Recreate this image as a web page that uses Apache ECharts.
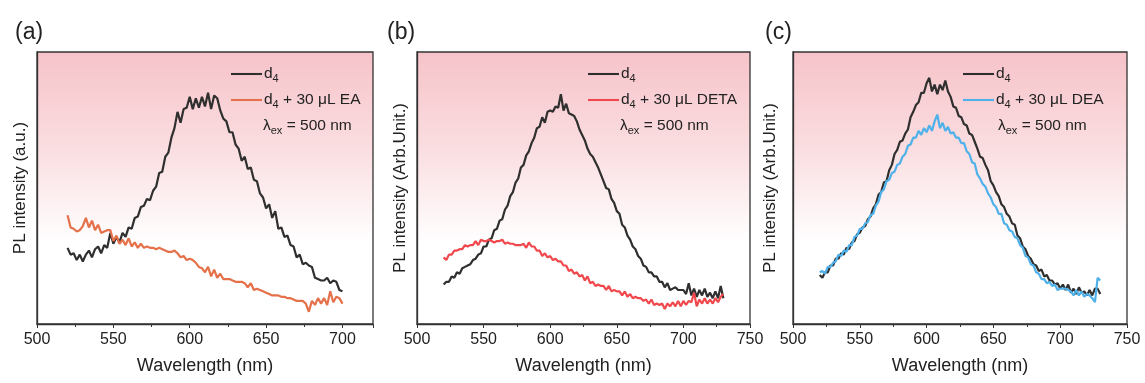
<!DOCTYPE html>
<html>
<head>
<meta charset="utf-8">
<script src="https://cdn.jsdelivr.net/npm/echarts@6/dist/echarts.min.js"></script>
<style>
  html, body { margin: 0; padding: 0; background: #fff; }
  #chart { width: 1145px; height: 383px; }
</style>
</head>
<body>
<div id="chart"></div>
<script>
// wavelength grids (nm)
const wlA = [520,522,524,526,528,530,532,534,536,538,540,542,544,546,548,550,552,554,556,558,560,562,564,566,568,570,572,574,576,578,580,582,584,586,588,590,592,594,596,598,600,602,604,606,608,610,612,614,616,618,620,622,624,626,628,630,632,634,636,638,640,642,644,646,648,650,652,654,656,658,660,662,664,666,668,670,672,674,676,678,680,682,684,686,688,690,692,694,696,698,700];
const wlBC = [520,522,524,526,528,530,532,534,536,538,540,542,544,546,548,550,552,554,556,558,560,562,564,566,568,570,572,574,576,578,580,582,584,586,588,590,592,594,596,598,600,602,604,606,608,610,612,614,616,618,620,622,624,626,628,630,632,634,636,638,640,642,644,646,648,650,652,654,656,658,660,662,664,666,668,670,672,674,676,678,680,682,684,686,688,690,692,694,696,698,700,702,704,706,708,710,712,714,716,718,720,722,724,726,728,730];

// (a) PL intensity, arbitrary units
const aD4 = [28,25.5,26,23.5,25.5,23,25.5,27,24.5,27.5,28.5,26,29,28,33.5,29.5,32,30,33.5,32,35.5,35,39,39.5,43,43.5,46,45.5,49,50.5,55.5,56,61.5,63,68.5,72,78,74,79,79.5,83.5,79,83,79.5,83.5,80,85,79,84,83,78.5,75.5,74.5,70.5,70.5,66,64.5,60,61.5,57,57.5,53,52.5,48,46.5,42.5,44,39,41.5,35,35.5,32,32.5,29,28.5,24.5,25.5,22,22.5,21.5,21,17,16.5,16,16,17,15,16,15.5,12.5,12];
const aEA = [40,35.5,35,34,34.5,36,39,35.5,38,34.5,36.5,33.5,34,34.5,34.5,30.5,32.5,29.5,31,29,31.5,28.5,30,28,29.5,28,28.5,28,28,27.5,28,27.5,27,26.5,26.5,27,26,24.5,25,23.5,24,23.5,22.5,21,20.5,19,21,17.5,20,17,18.5,16.5,16.5,16.5,16,15.5,15.5,15.5,15,13.5,15,12.5,13,12.5,12,11.5,11,10.5,10.5,10.5,10,10,9.5,9.5,9,8.5,8.5,8.5,7.5,4.5,8.5,7,9.5,7.5,9.5,7,12,8,10,9.5,7.5];

// (b)
const bD4 = [14.5,15.5,15.5,17.5,17,19,18.5,20.5,21,21.5,22,23.5,24,25.5,26,28.5,28.5,31,31.5,34.5,35,38,38.5,42,43.5,47,48.5,52,53.5,57.5,58.5,62,63.5,66.5,68.5,72,72.5,76,74,78,78.5,78,80,79.5,84.5,78.5,81,77.5,77,76.5,74.5,71.5,69.5,67.5,64.5,62.5,61.5,59.5,57.5,55,52.5,50,49.5,46,44.5,41.5,40.5,36.5,35.5,32.5,31,28.5,27.5,25,24,21.5,21,19,19,17.5,17.5,15.5,15.5,13.5,15,12.5,13,13.5,12.5,12.5,12.5,11,15,10.5,13,10,12.5,10.5,13,10,11.5,9.5,12,9.5,14,9.5];
const bDETA = [24.5,23.5,25.5,25.5,27,27,27.5,27.5,29,28.5,29,29,30.5,29,31,30.5,30.5,31,30.5,30,30.5,30.5,31,29.5,30,29.5,29.5,29,29,29,29.5,28,30,28.5,28.5,27,27,25,26,24.5,25,23.5,24,23,23,21.5,21.5,19.5,20,18.5,19,17.5,18,16,17.5,15,15.5,14,14.5,14,14,12.5,14,12,12.5,12,12,10.5,12,10,11,9.5,10,9.5,9.5,8.5,9,7.5,9,7,7.5,7,7.5,5.5,7.5,6.5,8,6.5,8.5,6.5,8.5,7,8.5,8,11.5,6.5,9,7.5,9.5,7.5,9,7.5,9.5,8,10,11];

// (c)
const cD4 = [18,17,19,19,21.5,21.5,24,24,26,25.5,28,27.5,30,30.5,33,33.5,35.5,36,38.5,39.5,42.5,44,47.5,48.5,52,52.5,56.5,58.5,62.5,64,67,67.5,70,71.5,76,78,80.5,81.5,85,85,88.5,90.5,85.5,88,84.5,88,86,89.5,85.5,83.5,80,79.5,76.5,76,73.5,73,70,69.5,67,64.5,61.5,61,58.5,56.5,52.5,51,48.5,47,44,43,40.5,39.5,37,36.5,32.5,31.5,28.5,27.5,25,24,22,21.5,19.5,20,17.5,18,16,16,14.5,15,13,14.5,12.5,14.5,11.5,13,11,13.5,11.5,12,10.5,12.5,10.5,13,13,11];
const cDEA = [19,19.5,18.5,21,21,22.5,23,25.5,25,27,26.5,29,29,32,32.5,35,35,37,37.5,40,40.5,43.5,45,48.5,49.5,52.5,53,55.5,56,58.5,59,61.5,62.5,65.5,66,68.5,68.5,71,69.5,72,70.5,73,71,74.5,77,72,74,71,72.5,70,70.5,68.5,68.5,66.5,66.5,63.5,62.5,59.5,59,55,53.5,51.5,50.5,48,46.5,44,43,40.5,40.5,37,36.5,34.5,34,32,31.5,29,28,25,24.5,22,21.5,19,18.5,16.5,16.5,15,15.5,14,14.5,12.5,13,13,13,12.5,12,10.5,12.5,10.5,12,10,11,10.5,9.5,8,17,16];

const xTicks = [500, 550, 600, 650, 700, 750];

const pair = (xs, ys) => xs.map((x, i) => [x, ys[i]]);

const FONT = 'Liberation Sans, Arial, sans-serif';
const AXIS = '#333';

const panels = [
  { tag: '(a)', left: 37, right: 772, max: 720, yName: 'PL intensity (a.u.)', yGap: 8,
    s: [['d4', aD4, wlA, '#2f2f2f'], ['d4 + 30 μL EA', aEA, wlA, '#e5714a']], legendLeft: 226, lamLeft: 258, tagLeft: 10 },
  { tag: '(b)', left: 417, right: 395, max: 750, yName: 'PL intensity (Arb.Unit.)', yGap: 8,
    s: [['d4', bD4, wlBC, '#2f2f2f'], ['d4 + 30 μL DETA', bDETA, wlBC, '#f0484c']], legendLeft: 583, lamLeft: 615, tagLeft: 382 },
  { tag: '(c)', left: 793, right: 18, max: 750, yName: 'PL intensity (Arb.Unit.)', yGap: 14,
    s: [['d4', cD4, wlBC, '#2f2f2f'], ['d4 + 30 μL DEA', cDEA, wlBC, '#4fb1ea']], legendLeft: 958, lamLeft: 993, tagLeft: 760 },
];

const bg = new echarts.graphic.LinearGradient(0, 0, 0, 1, [
  { offset: 0, color: '#f6c3c9' },
  { offset: 0.35, color: '#fadde0' },
  { offset: 0.7, color: '#ffffff' },
  { offset: 1, color: '#ffffff' },
]);

const option = {
  backgroundColor: '#fff',
  animation: false,
  grid: [], xAxis: [], yAxis: [], series: [], legend: [], title: [],
};

panels.forEach((p, i) => {
  option.grid.push({
    left: p.left, right: p.right, top: 52, bottom: 59,
    show: true, backgroundColor: bg, borderColor: AXIS, borderWidth: 1.3,
  });
  option.xAxis.push({
    gridIndex: i, type: 'value', min: 500, max: p.max, interval: 50,
    name: 'Wavelength (nm)', nameLocation: 'middle', nameGap: 33,
    nameTextStyle: { fontFamily: FONT, fontSize: 18, color: '#222' },
    axisLine: { lineStyle: { color: AXIS, width: 1.3 } },
    axisTick: { inside: false, length: 4, lineStyle: { color: AXIS } },
    minorTick: { show: true, splitNumber: 2, length: 3, lineStyle: { color: AXIS } },
    axisLabel: {
      fontFamily: FONT, fontSize: 16, color: '#222', margin: 8,
      formatter: (v) => (xTicks.includes(v) ? String(v) : ''),
    },
    splitLine: { show: false },
  });
  option.yAxis.push({
    gridIndex: i, type: 'value', min: 0, max: 100,
    name: p.yName, nameLocation: 'middle', nameGap: p.yGap, nameRotate: 90,
    nameTextStyle: { fontFamily: FONT, fontSize: 17, color: '#222' },
    axisLine: { show: true, lineStyle: { color: AXIS, width: 1.3 } },
    axisTick: { show: false }, axisLabel: { show: false }, splitLine: { show: false },
  });
  p.s.forEach(([name, ys, xs, color]) => {
    option.series.push({
      name: name + ' ' + p.tag, type: 'line', xAxisIndex: i, yAxisIndex: i,
      data: pair(xs, ys), symbol: 'none', lineStyle: { color, width: 2.2 }, itemStyle: { color },
    });
  });
  option.legend.push({
    data: p.s.map(([name]) => name + ' ' + p.tag),
    orient: 'vertical', left: p.legendLeft, top: 61, itemGap: 8,
    itemWidth: 31, itemHeight: 16,
    icon: 'path://M0,7 L30,7 L30,9 L0,9 Z',
    selectedMode: false,
    formatter: (n) => n.replace(' ' + p.tag, '').replace('d4', 'd{s|4}'),
    textStyle: {
      fontFamily: FONT, fontSize: 15.5, color: '#222', padding: [0, 0, 0, -3],
      rich: { s: { fontFamily: FONT, fontSize: 11, padding: [9, 0, 0, 0], color: '#222' } },
    },
  });
  option.title.push({
    text: '{l|λ}{s|ex} = 500 nm', left: p.lamLeft, top: 110,
    textStyle: {
      fontFamily: FONT, fontSize: 15.5, fontWeight: 'normal', color: '#222',
      rich: {
        l: { fontFamily: FONT, fontSize: 15.5, color: '#222' },
        s: { fontFamily: FONT, fontSize: 11, padding: [10, 0, 0, 0], color: '#222' },
      },
    },
  });
  option.title.push({
    text: p.tag, left: p.tagLeft, top: 16,
    textStyle: { fontFamily: FONT, fontSize: 23, fontWeight: 'normal', color: '#222' },
  });
});

const chart = echarts.init(document.getElementById('chart'));
chart.setOption(option);
</script>
</body>
</html>
